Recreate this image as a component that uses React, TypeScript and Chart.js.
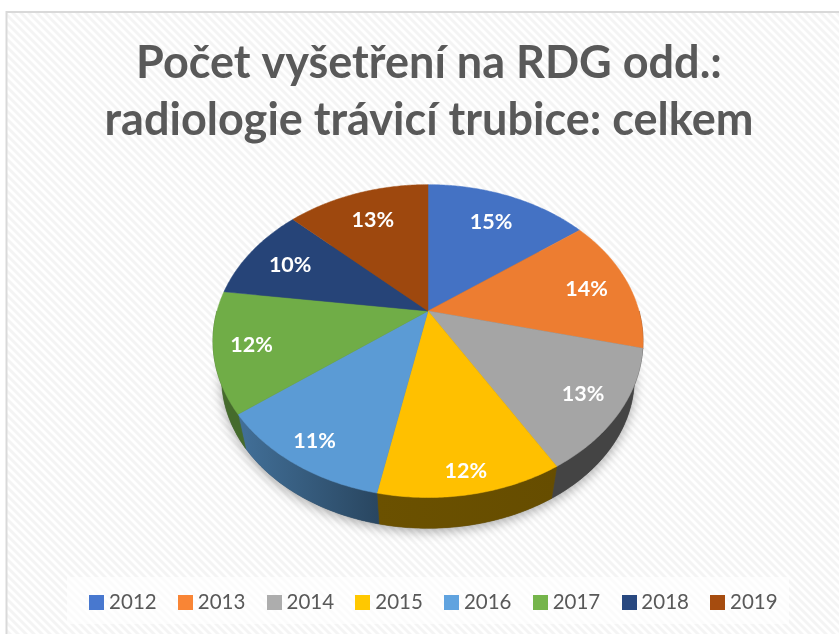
import React, { useEffect, useRef } from "react";
import { Chart, registerables } from "chart.js";

Chart.register(...registerables);

const categories = ["2012", "2013", "2014", "2015", "2016", "2017", "2018", "2019"];
const shareValues = [14.8, 14.0, 12.7, 11.65, 11.49, 12.45, 10.0, 12.91];
const sliceColors = ["#4472c4", "#ed7d31", "#a5a5a5", "#ffc000", "#5b9bd5", "#70ad47", "#264478", "#9e480e"];
const legendColors = ["#4878cf", "#f98535", "#adadad", "#ffc800", "#60a3df", "#75b54b", "#284880", "#a64c0f"];
const labelRadius = [0.754, 0.79, 0.828, 0.89, 0.87, 0.83, 0.77, 0.75];
const sideShadeLeft = [0.5, 0.5, 0.41, 0.42, 0.72, 0.62, 0.5, 0.5];
const sideShadeRight = [0.5, 0.5, 0.41, 0.4, 0.45, 0.62, 0.5, 0.5];
const titleLines = ["Počet vyšetření na RDG odd.:", "radiologie trávicí trubice: celkem"];

const FONT = "Lato, 'Open Sans', sans-serif";
const W = 839;
const H = 634;
const CX = 428;
const CY = 311;
const RADIUS = 211;
const TILT = 0.714;
const PERSP = 0.1923;

function shade(hex: string, f: number) {
  const n = parseInt(hex.slice(1), 16);
  const c = [(n >> 16) & 255, (n >> 8) & 255, n & 255].map((v) => Math.round(v * f));
  return `rgb(${c[0]},${c[1]},${c[2]})`;
}

function swatch(color: string) {
  const c = document.createElement("canvas");
  c.width = 15;
  c.height = 15;
  const g = c.getContext("2d")!;
  g.fillStyle = color;
  g.fillRect(0, 0, 15, 15);
  return c;
}

function stripes(ctx: CanvasRenderingContext2D) {
  const c = document.createElement("canvas");
  c.width = 8;
  c.height = 8;
  const g = c.getContext("2d")!;
  g.fillStyle = "#ffffff";
  g.fillRect(0, 0, 8, 8);
  g.strokeStyle = "#f4f4f4";
  g.lineWidth = 2.8;
  for (const o of [-8, 0, 8]) {
    g.beginPath();
    g.moveTo(o - 1, -1);
    g.lineTo(o + 9, 9);
    g.stroke();
  }
  return ctx.createPattern(c, "repeat")!;
}

// Perspective view of the flat pie: theta is clockwise from 12 o'clock.
function project(arc: any, theta: number, r = 1) {
  const u = r * Math.sin(theta);
  const v = -r * Math.cos(theta);
  const d = 1 - PERSP * v;
  return { x: arc.x + (arc.outerRadius * u) / d, y: arc.y + (arc.outerRadius * TILT * v) / d };
}

// The lower rim of the disc sits further from the viewer, so it is a little smaller.
function lower(arc: any, p: { x: number; y: number }) {
  return { x: arc.x + 0.96 * (p.x - arc.x), y: arc.y + 67 + 0.96 * (p.y - arc.y - 30) };
}

const background = {
  id: "sheet",
  beforeDraw(chart: any) {
    const { ctx } = chart;
    ctx.save();
    ctx.fillStyle = "#ffffff";
    ctx.fillRect(0, 0, W, H);
    ctx.fillStyle = stripes(ctx);
    ctx.fillRect(7, 12, W, H);
    ctx.strokeStyle = "#d9d9d9";
    ctx.lineWidth = 2;
    ctx.strokeRect(6.5, 12, W + 10, H + 10);
    ctx.fillStyle = "rgba(255,255,255,0.65)";
    ctx.fillRect(67, 577, 722, 47);
    ctx.restore();
  },
};

const placement = {
  id: "placement",
  afterLayout(chart: any) {
    chart.legend.left += 16.75;
    chart.legend.right += 16.75;
    chart.titleBlock.left += 9.5;
    chart.titleBlock.right += 9.5;
    const r = RADIUS + 1;
    chart.chartArea = { left: CX - r, right: CX + r, top: CY - r, bottom: CY + r, width: 2 * r, height: 2 * r };
  },
};

const perspectivePie = {
  id: "perspectivePie",
  beforeDatasetDraw(chart: any, args: any) {
    const { ctx } = chart;
    const arcs: any[] = args.meta.data;
    const total = shareValues.reduce((a, b) => a + b, 0);
    const step = 0.01;
    const first = arcs[0];

    // soft ground shadow
    ctx.save();
    ctx.shadowColor = "rgba(0,0,0,0.34)";
    ctx.shadowBlur = 12;
    ctx.shadowOffsetY = 3;
    ctx.fillStyle = "#555555";
    ctx.beginPath();
    for (let t = 0; t < Math.PI * 2; t += step) {
      const p = lower(first, project(first, t));
      ctx.lineTo(p.x, p.y);
    }
    ctx.closePath();
    ctx.fill();
    ctx.restore();

    // side wall
    arcs.forEach((arc, i) => {
      const a = arc.startAngle + Math.PI / 2;
      const b = arc.endAngle + Math.PI / 2;
      const from = Math.max(a, Math.PI / 2);
      const to = Math.min(b, (Math.PI * 3) / 2);
      if (to <= from) return;
      const upper: any[] = [];
      for (let t = from; t < to; t += step) upper.push(project(arc, t));
      upper.push(project(arc, to));
      const low = upper.map((p) => lower(arc, p));
      const xs = upper.concat(low).map((p) => p.x);
      const grad = ctx.createLinearGradient(Math.min(...xs), 0, Math.max(...xs), 0);
      grad.addColorStop(0, shade(sliceColors[i], sideShadeLeft[i]));
      grad.addColorStop(1, shade(sliceColors[i], sideShadeRight[i]));
      ctx.fillStyle = grad;
      ctx.strokeStyle = grad;
      ctx.lineWidth = 0.6;
      ctx.beginPath();
      upper.forEach((p) => ctx.lineTo(p.x, p.y));
      low.reverse().forEach((p) => ctx.lineTo(p.x, p.y));
      ctx.closePath();
      ctx.fill();
      ctx.stroke();
    });

    // top faces
    arcs.forEach((arc) => {
      const a = arc.startAngle + Math.PI / 2;
      const b = arc.endAngle + Math.PI / 2;
      ctx.fillStyle = arc.options.backgroundColor;
      ctx.strokeStyle = arc.options.backgroundColor;
      ctx.lineWidth = 0.5;
      ctx.beginPath();
      ctx.moveTo(arc.x, arc.y);
      for (let t = a; t < b; t += step) {
        const p = project(arc, t);
        ctx.lineTo(p.x, p.y);
      }
      const end = project(arc, b);
      ctx.lineTo(end.x, end.y);
      ctx.closePath();
      ctx.fill();
      ctx.stroke();
    });

    // percentage labels
    ctx.save();
    ctx.font = `bold 21.5px ${FONT}`;
    ctx.fillStyle = "#ffffff";
    ctx.textAlign = "center";
    ctx.textBaseline = "middle";
    arcs.forEach((arc, i) => {
      const mid = (arc.startAngle + arc.endAngle) / 2 + Math.PI / 2;
      const p = project(arc, mid, labelRadius[i]);
      ctx.fillText(`${Math.round((shareValues[i] / total) * 100)}%`, p.x, p.y + 1);
    });
    ctx.restore();
    return false;
  },
};

export default function App() {
  const ref = useRef<HTMLCanvasElement>(null);
  useEffect(() => {
    const chart = new Chart(ref.current!, {
      type: "pie",
      data: {
        labels: categories,
        datasets: [{ data: shareValues, backgroundColor: sliceColors, borderWidth: 0, radius: RADIUS } as any],
      },
      plugins: [background, placement, perspectivePie],
      options: {
        responsive: false,
        animation: false,
        layout: { padding: { bottom: 11 } },
        plugins: {
          tooltip: { enabled: false },
          title: {
            display: true,
            text: titleLines,
            color: "#595959",
            font: { family: FONT, size: 45, weight: "bold", lineHeight: 1.267 },
            padding: { top: 35, bottom: 10 },
          },
          legend: {
            display: true,
            position: "bottom",
            labels: {
              color: "#595959",
              font: { family: FONT, size: 20.5 },
              usePointStyle: true,
              pointStyleWidth: 4,
              padding: 26.9,
              generateLabels: () =>
                categories.map((text, i) => ({
                  text,
                  fontColor: "#595959",
                  pointStyle: swatch(legendColors[i]),
                  fillStyle: legendColors[i],
                  strokeStyle: legendColors[i],
                  lineWidth: 0,
                  hidden: false,
                  index: i,
                })),
            },
          },
        },
      } as any,
    });
    return () => chart.destroy();
  }, []);
  return (
    <canvas
      ref={ref}
      width={W}
      height={H}
      style={{ position: "fixed", left: 0, top: 0, width: W, height: H, display: "block" }}
    />
  );
}
